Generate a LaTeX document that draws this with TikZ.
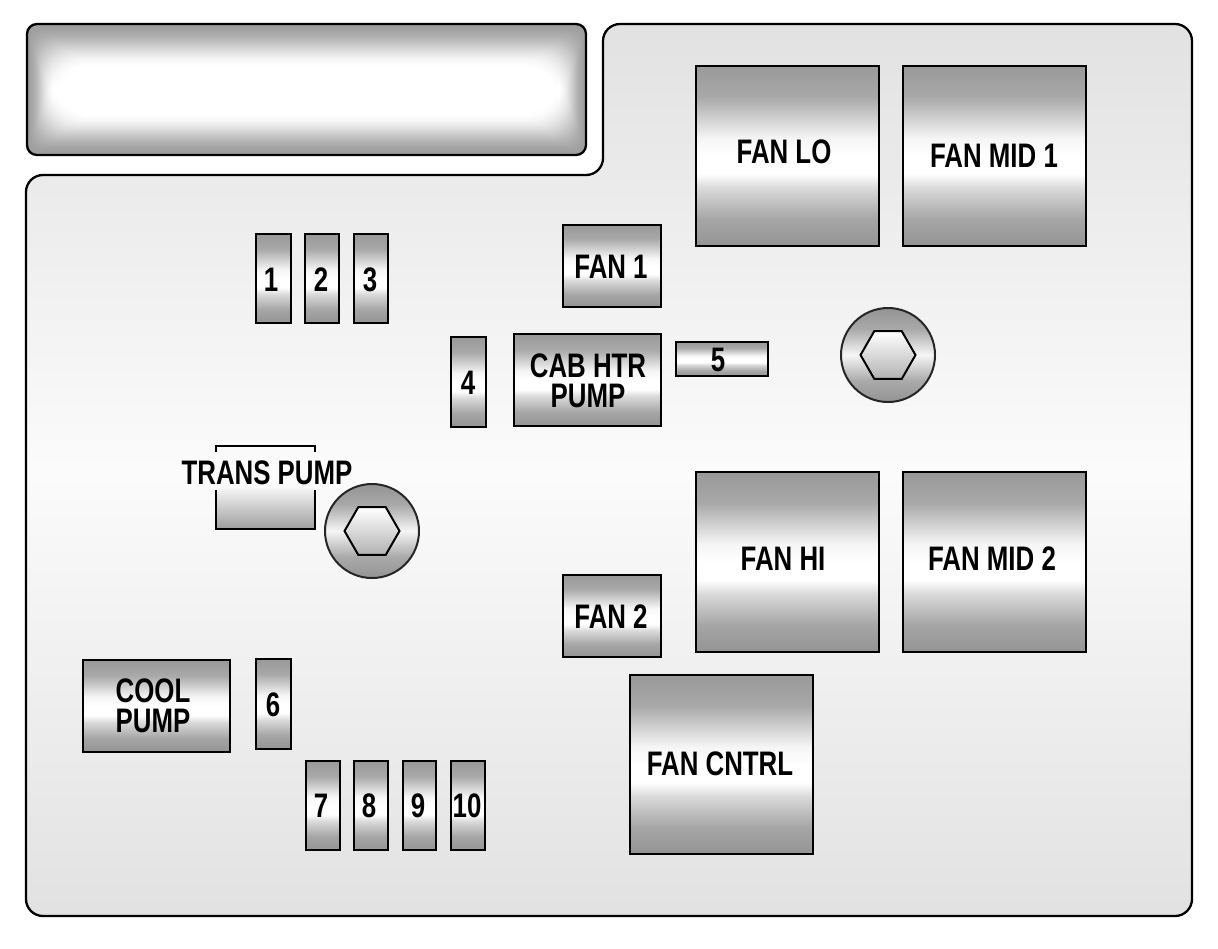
\documentclass[tikz,border=0pt]{standalone}
\usepackage{fontspec}
\newfontfamily\labfont[FakeStretch=0.76]{Liberation Sans Bold}
\definecolor{gA}{gray}{0.60}
\definecolor{gB}{gray}{0.66}
\definecolor{gC}{gray}{0.85}
\definecolor{gD}{gray}{0.96}
\definecolor{gE}{gray}{1.0}
\definecolor{gF}{gray}{0.65}
\definecolor{gG}{gray}{0.58}
\definecolor{bgEdge}{gray}{0.885}
\definecolor{bgMid}{gray}{0.985}
\pgfdeclareverticalshading{partshade}{100bp}{color(0bp)=(gG); color(25bp)=(gG); color(32.5bp)=(gF); color(41bp)=(gC); color(45bp)=(gE); color(50bp)=(gE); color(55bp)=(gD); color(66.5bp)=(gB); color(75bp)=(gA); color(100bp)=(gA)}
\pgfdeclareverticalshading{boltshade}{100bp}{color(0bp)=(gG); color(25bp)=(gG); color(36bp)=(gB); color(50bp)=(gD); color(64bp)=(gB); color(75bp)=(gG); color(100bp)=(gG)}
\tikzset{
  px/.style={x=0.5pt,y=-0.5pt},
  part/.style={draw=black,line width=1.15pt,shading=partshade},
  lab/.style={font=\labfont\fontsize{17}{16}\selectfont,text=black,inner sep=0pt,align=center},
  outline/.style={draw=black,line width=1.15pt},
  boltdisc/.style={draw=black!85,line width=1pt,shading=boltshade},
  bolthex/.style={draw=black,line width=1pt,top color=white,bottom color=black!30}
}
\newcommand{\partbox}[8]{%
  \path[part] (#2,#3) rectangle (#4,#5);
  \node[lab] (#1) at (#6,#7) {#8};
}
\newcommand{\boltat}[3]{%
  \coordinate (#1) at (#2,#3);
  \path[boltdisc] (#2,#3) circle [radius=47];
  \path[bolthex] ([shift={(#2,#3)}]0:27.5) -- ([shift={(#2,#3)}]60:27.5) -- ([shift={(#2,#3)}]120:27.5) -- ([shift={(#2,#3)}]180:27.5) -- ([shift={(#2,#3)}]240:27.5) -- ([shift={(#2,#3)}]300:27.5) -- cycle;
}
\begin{document}
\begin{tikzpicture}[px]
\useasboundingbox[fill=white] (0,0) rectangle (1218,948);
% main housing
\path[outline,rounded corners=8.5pt,top color=bgEdge,bottom color=bgEdge,middle color=bgMid]
  (26,175) -- (603,175) -- (603,24) -- (1192,24) -- (1192,916) -- (26,916) -- cycle;
% top glowing panel
\foreach \i in {0,...,44}{
  \pgfmathsetmacro{\tval}{\i/44}
  \pgfmathsetmacro{\mixv}{100*\tval*\tval*(3-2*\tval)}
  \pgfmathsetmacro{\rad}{4+\i*0.35}
  \fill[white!\mixv!black!38,rounded corners=\rad pt]
    ({27+\i*0.62},{24+\i*1.0}) rectangle ({586-\i*0.62},{155-\i*0.95});
}
\draw[outline,rounded corners=5pt] (27,24) rectangle (586,155);
% relays and fuses
\partbox{fanlo}{696}{66}{879}{246}{784}{152}{FAN LO}
\partbox{fanmidone}{903}{66}{1086}{246}{994}{156}{FAN MID 1}
\partbox{fanone}{563}{225}{661}{307}{611}{267}{FAN 1}
\partbox{cab}{514}{334}{661}{426}{588}{381}{CAB HTR\\[-1pt]PUMP}
\partbox{ffive}{676}{342}{768}{376}{718}{360}{5}
\partbox{ffour}{451}{337}{486}{427}{468}{383}{4}
\partbox{fone}{256}{234}{291}{323}{271}{280}{1}
\partbox{ftwo}{305}{234}{339}{323}{321}{280}{2}
\partbox{fthree}{354}{234}{388}{323}{370}{280}{3}
\partbox{fanhi}{696}{472}{879}{652}{783}{559}{FAN HI}
\partbox{fanmidtwo}{903}{472}{1086}{652}{992}{559}{FAN MID 2}
\partbox{fantwo}{563}{575}{661}{657}{611}{617}{FAN 2}
\partbox{fancntrl}{630}{675}{813}{854}{720}{764}{FAN CNTRL}
\partbox{cool}{83}{660}{230}{752}{153}{706}{COOL\\[-1pt]PUMP}
\partbox{fsix}{256}{659}{291}{749}{273}{705}{6}
\partbox{fseven}{306}{761}{340}{850}{321}{806}{7}
\partbox{feight}{354}{761}{388}{850}{369}{806}{8}
\partbox{fnine}{403}{761}{436}{850}{418}{806}{9}
\partbox{ften}{451}{761}{485}{850}{467}{806}{10}
% trans pump
\shade[top color=black!4,bottom color=black!38] (216,488) rectangle (315,529);
\draw[outline] (216,490) -- (216,529) -- (315,529) -- (315,490);
\draw[outline] (216,452) -- (216,446) -- (315,446) -- (315,452);
\node[lab] (transpump) at (267,473) {TRANS PUMP};
% bolts
\boltat{boltone}{888}{355}
\boltat{bolttwo}{372}{531}
\end{tikzpicture}
\end{document}
